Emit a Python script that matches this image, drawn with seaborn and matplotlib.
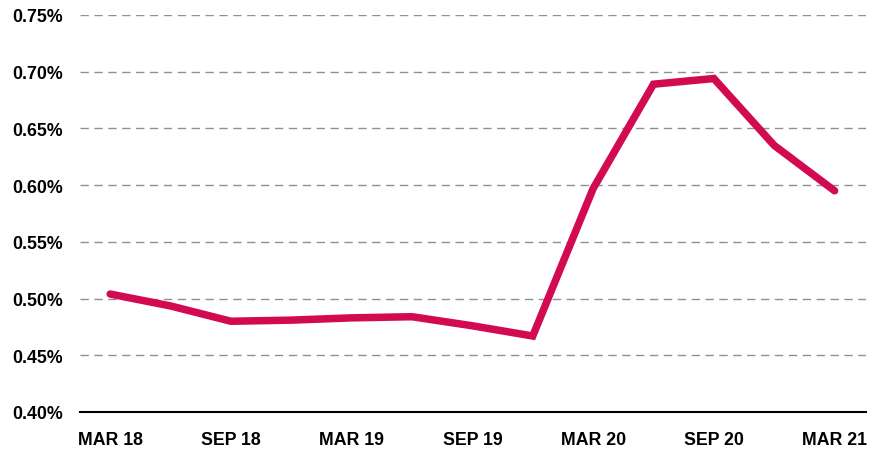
import numpy as np
import pandas as pd
import seaborn as sns
import matplotlib.pyplot as plt
from matplotlib.ticker import FuncFormatter

# quarterly values, MAR 18 -> MAR 21 (in %)
quarters = ["MAR 18", "JUN 18", "SEP 18", "DEC 18", "MAR 19", "JUN 19", "SEP 19",
            "DEC 19", "MAR 20", "JUN 20", "SEP 20", "DEC 20", "MAR 21"]
values = [0.504, 0.4935, 0.480, 0.481, 0.483, 0.484, 0.476,
          0.467, 0.597, 0.689, 0.694, 0.635, 0.595]
tick_labels = ["MAR 18", "SEP 18", "MAR 19", "SEP 19", "MAR 20", "SEP 20", "MAR 21"]
y_ticks = [0.40, 0.45, 0.50, 0.55, 0.60, 0.65, 0.70, 0.75]

df = pd.DataFrame({"quarter": quarters, "value": values})
df["pos"] = np.arange(len(df))

sns.set_theme(style="white")
plt.rcParams["font.family"] = ["Liberation Sans", "DejaVu Sans"]

fig = plt.figure(figsize=(8.86, 4.52), dpi=100)
ax = fig.add_axes([80 / 886, 39 / 452, 786 / 886, 397 / 452])

sns.lineplot(data=df, x="pos", y="value", ax=ax, color="#D20A52", linewidth=5.4,
             solid_capstyle="round", solid_joinstyle="miter")

ax.set_xlim(-0.5, 12.52)
ax.set_ylim(0.40, 0.75)
ax.set_yticks(y_ticks)
ax.yaxis.set_major_formatter(FuncFormatter(lambda v, p: f"{v:.2f}%"))
ax.set_xticks([df["pos"][quarters.index(t)] for t in tick_labels])
ax.set_xticklabels(tick_labels)

for y in y_ticks[1:]:
    ax.axhline(y, color="#909090", linewidth=1.0, linestyle=(0, (6, 4)), zorder=0)

for s in ["top", "right", "left"]:
    ax.spines[s].set_visible(False)
ax.spines["bottom"].set_color("black")
ax.spines["bottom"].set_linewidth(1.5)

ax.tick_params(axis="y", length=0, pad=12, labelsize=12.8)
ax.tick_params(axis="x", length=0, pad=14, labelsize=12.8)
for lab in ax.get_xticklabels() + ax.get_yticklabels():
    lab.set_fontweight("bold")
    lab.set_color("black")
ax.set_xlabel("")
ax.set_ylabel("")

fig.savefig("out.png", dpi=100)
